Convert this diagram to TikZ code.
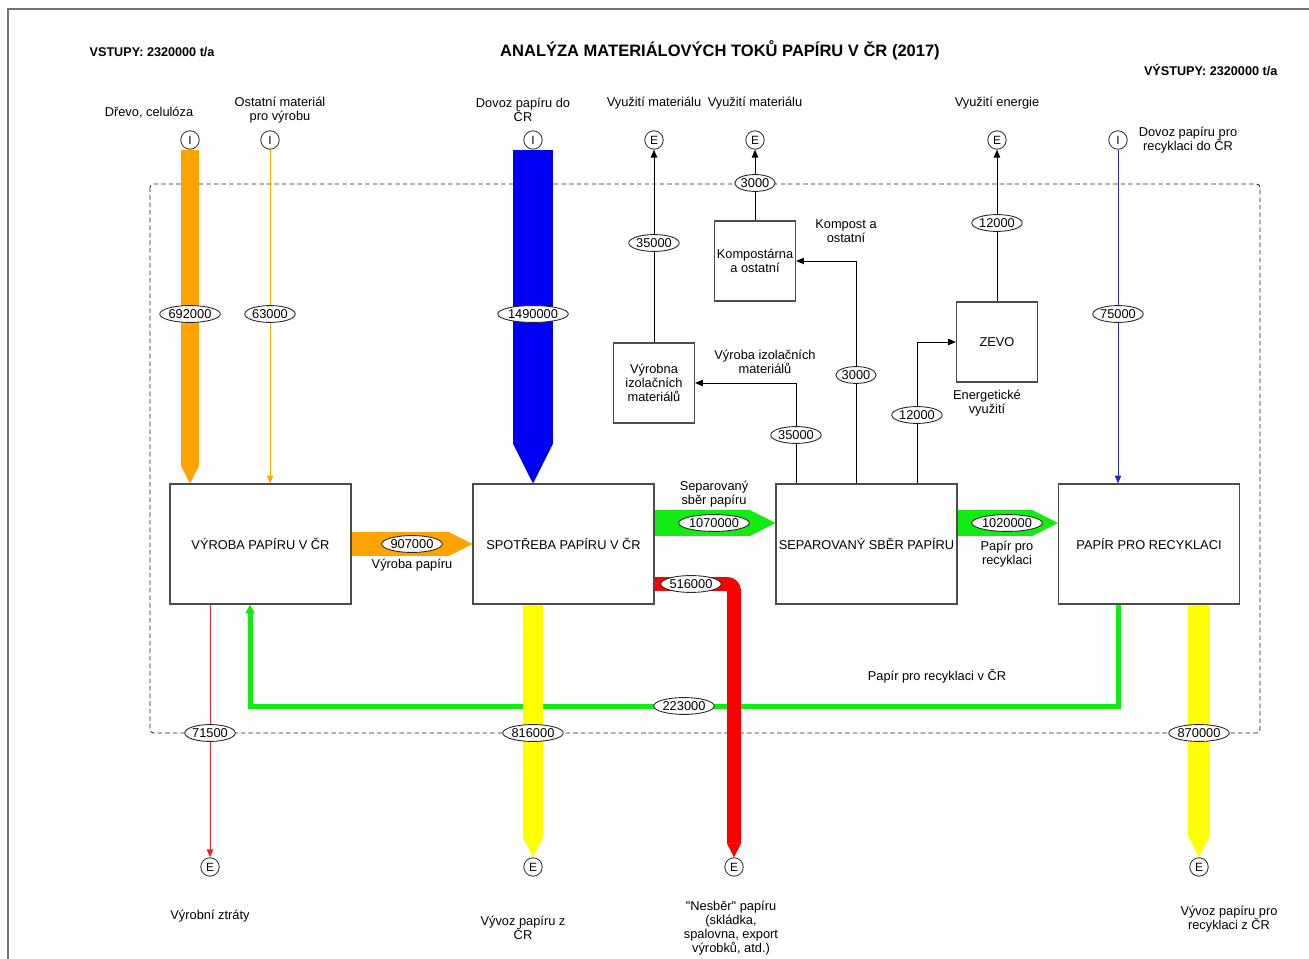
\documentclass[tikz,border=0pt]{standalone}
\usepackage{fontspec}
\setmainfont{Liberation Sans}
\usepackage{xcolor}
\usetikzlibrary{calc}
\usetikzlibrary{arrows.meta}
\usetikzlibrary{shapes.geometric}

\definecolor{flowOrange}{RGB}{255,163,0}
\definecolor{flowBlue}{RGB}{0,0,245}
\definecolor{flowGreen}{RGB}{20,235,20}
\definecolor{flowRed}{RGB}{250,0,0}
\definecolor{flowYellow}{RGB}{255,255,0}
\definecolor{thinBlue}{RGB}{40,40,190}
\definecolor{thinRed}{RGB}{225,40,40}

\tikzset{
  procbox/.style={draw=black!70, line width=0.6pt, fill=white, minimum width=3.62cm,
    minimum height=2.4cm, inner sep=1pt, align=center, font=\fontsize{7.3}{8}\selectfont},
  subbox/.style={procbox, minimum width=1.62cm, minimum height=1.6cm},
  term/.style={circle, draw=black!80, line width=0.5pt, fill=white, minimum size=10.5pt,
    inner sep=0pt, font=\fontsize{6.8}{7}\selectfont},
  amount/.style={ellipse, draw=black!85, line width=0.5pt, fill=white, inner xsep=0pt,
    inner ysep=0pt, minimum height=9.6pt, font=\fontsize{7.3}{8}\selectfont},
  note/.style={align=center, inner sep=0pt, font=\fontsize{7.3}{8}\selectfont},
  thinflow/.style={line width=0.55pt, -{Triangle[length=4.5pt,width=3.6pt]}},
  bigflow/.style={line width=#1, -{Triangle[length=#1,width=#1,line width=0.6pt]}},
}

\begin{document}
\begin{tikzpicture}[x=0.02cm, y=-0.02cm]
                \useasboundingbox (0,0) rectangle (1309,959);
                {\fontsize{7.3}{8}\selectfont

                % Frame and system boundary
                \draw [black!55, line width=0.6pt] (8,959) -- (8,9) -- (1309,9);%
                \draw [black!85, line width=0.5pt, dash pattern=on 2.6pt off 1.7pt, rounded corners=2pt] (150,184) rectangle (1260,733);%

                % Headings
                \node [font=\bfseries\fontsize{9.4}{11}\selectfont] (title) at (720,50) {ANALÝZA MATERIÁLOVÝCH TOKŮ PAPÍRU V ČR (2017)};%
                \node [anchor=west, font=\bfseries\fontsize{7.2}{8}\selectfont] (vstupy) at (85,52) {VSTUPY: 2320000 t/a};%
                \node [anchor=east, font=\bfseries\fontsize{7.2}{8}\selectfont] (vystupy) at (1282,70) {VÝSTUPY: 2320000 t/a};%

                % Marking processes by boxes
                \node [procbox] (vyroba) at (260.5,544) {VÝROBA PAPÍRU V ČR};%
                \node [procbox] (spotreba) at (563.5,544) {SPOTŘEBA PAPÍRU V ČR};%
                \node [procbox] (sber) at (866.5,544) {SEPAROVANÝ SBĚR PAPÍRU};%
                \node [procbox] (recykl) at (1149,544) {PAPÍR PRO RECYKLACI};%
                \node [subbox] (izolace) at (654,383) {Výrobna\\izolačních\\materiálů};%
                \node [subbox] (kompost) at (755,261) {Kompostárna\\a ostatní};%
                \node [subbox] (zevo) at (997,342) {ZEVO};%

                % Marking inputs I by circle
                \node [term] (iWood) at (190,140) {I};%
                \node [term] (iOther) at (270,140) {I};%
                \node [term] (iImport) at (533,140) {I};%
                \node [term] (iRecImport) at (1118,140) {I};%

                % Marking outputs E by circle
                \node [term] (eIzol) at (654,140) {E};%
                \node [term] (eKomp) at (755,140) {E};%
                \node [term] (eZevo) at (997,140) {E};%
                \node [term] (eLoss) at (210,867) {E};%
                \node [term] (eExport) at (533,867) {E};%
                \node [term] (eNesber) at (734,867) {E};%
                \node [term] (eRecExport) at (1199,867) {E};%

                % Helper coordinates for bends
                \coordinate (sepY) at (700,523);%
                \coordinate (nesY) at (700,584);%
                \coordinate (loop) at (250,706);%
                \coordinate (izoX) at (796,400);%
                \coordinate (kompX) at (856,400);%
                \coordinate (zevoX) at (917,400);%

                % Drawing flow recycled paper back to production
                \draw [flowGreen, line width=0.1cm, -{Triangle[length=5pt,width=5pt]}] (recykl.south -| iRecImport) |- (loop) -- (vyroba.south -| loop);%

                % Drawing thick flows
                \draw [flowOrange, bigflow=0.36cm] (iWood.south) -- (vyroba.north -| iWood);%
                \draw [flowBlue, bigflow=0.8cm] (iImport.south) -- (spotreba.north -| iImport);%
                \draw [flowOrange, bigflow=0.48cm] (vyroba.east) -- (spotreba.west);%
                \draw [flowGreen, bigflow=0.52cm] (spotreba.east |- sepY) -- (sber.west |- sepY);%
                \draw [flowGreen, bigflow=0.52cm] (sber.east |- sepY) -- (recykl.west |- sepY);%
                \draw [flowYellow, bigflow=0.4cm] (spotreba.south -| eExport) -- (eExport.north);%
                \draw [flowYellow, bigflow=0.44cm] (recykl.south -| eRecExport) -- (eRecExport.north);%
                \draw [flowRed, bigflow=0.28cm, rounded corners=0.14cm] (spotreba.east |- nesY) -| (eNesber.north);%

                % Drawing thin flows
                \draw [flowOrange, thinflow] (iOther.south) -- (vyroba.north -| iOther);%
                \draw [thinBlue, thinflow] (iRecImport.south) -- (recykl.north -| iRecImport);%
                \draw [thinRed, thinflow] (vyroba.south -| eLoss) -- (eLoss.north);%
                \draw [thinflow] (sber.north -| izoX) |- (izolace.east);%
                \draw [thinflow] (sber.north -| kompX) |- (kompost.east);%
                \draw [thinflow] (sber.north -| zevoX) |- (zevo.west);%
                \draw [thinflow] (izolace.north) -- (eIzol.south);%
                \draw [thinflow] (kompost.north) -- (eKomp.south);%
                \draw [thinflow] (zevo.north) -- (eZevo.south);%

                % Marking amounts in t/a
                \node [amount] (v692) at (190,314) {692000};%
                \node [amount] (v63) at (270,314) {63000};%
                \node [amount] (v1490) at (533,314) {1490000};%
                \node [amount] (v75) at (1118,314) {75000};%
                \node [amount] (v907) at (412,544) {907000};%
                \node [amount] (v1070) at (714,523) {1070000};%
                \node [amount] (v1020) at (1007,523) {1020000};%
                \node [amount] (v516) at (691,584) {516000};%
                \node [amount] (v223) at (684,706) {223000};%
                \node [amount] (v71) at (210,733) {71500};%
                \node [amount] (v816) at (533,733) {816000};%
                \node [amount] (v870) at (1199,733) {870000};%
                \node [amount] (v35a) at (654,243) {35000};%
                \node [amount] (v3a) at (755,183) {3000};%
                \node [amount] (v12a) at (997,223) {12000};%
                \node [amount] (v35b) at (796,435) {35000};%
                \node [amount] (v3b) at (856,375) {3000};%
                \node [amount] (v12b) at (917,415) {12000};%

                % Marking input and output names
                \node [note] (tWood) at (149,113) {Dřevo, celulóza};%
                \node [note] (tOther) at (280,110) {Ostatní materiál\\pro výrobu};%
                \node [note] (tImport) at (523,110) {Dovoz papíru do\\ČR};%
                \node [note] (tIzol) at (654,103) {Využití materiálu};%
                \node [note] (tKomp) at (755,103) {Využití materiálu};%
                \node [note] (tZevo) at (997,103) {Využití energie};%
                \node [note] (tRecImport) at (1188,140) {Dovoz papíru pro\\recyklaci do ČR};%
                \node [note] (tLoss) at (210,916) {Výrobní ztráty};%
                \node [note] (tExport) at (523,928) {Vývoz papíru z\\ČR};%
                \node [note] (tNesber) at (731,928) {\textquotedbl Nesběr\textquotedbl{} papíru\\(skládka,\\spalovna, export\\výrobků, atd.)};%
                \node [note] (tRecExport) at (1229,919) {Vývoz papíru pro\\recyklaci z ČR};%

                % Marking flow names
                \node [note] (tProd) at (412,565) {Výroba papíru};%
                \node [note] (tSep) at (714,494) {Separovaný\\sběr papíru};%
                \node [note] (tRec) at (1007,554) {Papír pro\\recyklaci};%
                \node [note] (tLoop) at (937,676) {Papír pro recyklaci v ČR};%
                \node [note] (tIzolFlow) at (765,362) {Výroba izolačních\\materiálů};%
                \node [note] (tKompFlow) at (846,231) {Kompost a\\ostatní};%
                \node [note] (tZevoFlow) at (987,403) {Energetické\\využití};%
                }
\end{tikzpicture}
\end{document}
